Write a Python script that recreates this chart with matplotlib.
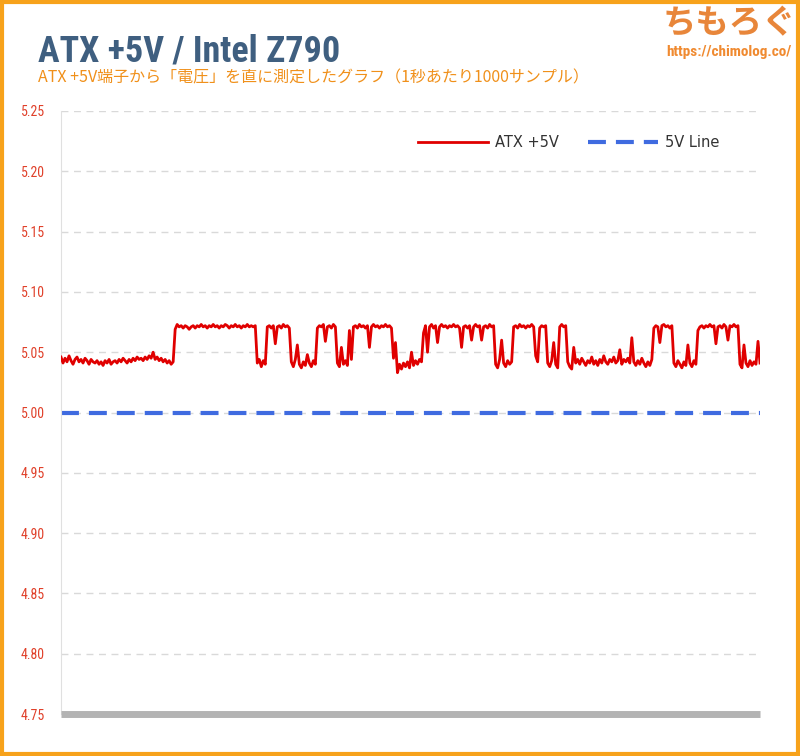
import matplotlib
matplotlib.use("Agg")
import matplotlib.pyplot as plt
from matplotlib.patches import Rectangle
import numpy as np

# ATX +5V readings (V) left to right
atx_5v = [
    5.046, 5.041, 5.045, 5.042, 5.047, 5.043, 5.040, 5.044, 5.046, 5.042,
    5.044, 5.041, 5.045, 5.043, 5.040, 5.044, 5.042, 5.041, 5.043, 5.040,
    5.042, 5.039, 5.043, 5.041, 5.044, 5.040, 5.042, 5.043, 5.041, 5.044,
    5.042, 5.045, 5.043, 5.041, 5.044, 5.042, 5.045, 5.043, 5.046, 5.044,
    5.045, 5.043, 5.046, 5.044, 5.047, 5.045, 5.050, 5.044, 5.046, 5.043,
    5.045, 5.042, 5.044, 5.041, 5.043, 5.040, 5.042,
    5.069,
    5.073, 5.071, 5.072, 5.070, 5.072, 5.071, 5.069, 5.071, 5.072, 5.070,
    5.072, 5.071, 5.073, 5.071, 5.072, 5.070, 5.072, 5.071, 5.073, 5.071,
    5.072, 5.070, 5.072, 5.071, 5.073, 5.072, 5.070, 5.072, 5.071, 5.073,
    5.071, 5.072, 5.070, 5.072, 5.071, 5.073, 5.071, 5.072, 5.071, 5.072,
    5.041, 5.044, 5.038, 5.043, 5.040,
    5.071, 5.072, 5.070, 5.072, 5.057, 5.071, 5.072, 5.070, 5.073, 5.071, 5.072, 5.070,
    5.042, 5.038, 5.044, 5.056, 5.040, 5.037, 5.042, 5.039, 5.048, 5.041, 5.038, 5.043, 5.040,
    5.070, 5.072, 5.071, 5.073, 5.059, 5.071, 5.072, 5.070, 5.073, 5.071,
    5.041, 5.038, 5.054, 5.040, 5.043, 5.039, 5.068, 5.044,
    5.071, 5.072, 5.070, 5.073, 5.071, 5.072, 5.070, 5.072, 5.054, 5.071,
    5.073, 5.071, 5.072, 5.070, 5.072, 5.071, 5.073, 5.071, 5.072, 5.070,
    5.045, 5.058, 5.033, 5.040, 5.036, 5.041, 5.038, 5.042, 5.037, 5.050,
    5.039, 5.043, 5.040, 5.044, 5.042,
    5.066, 5.072, 5.050, 5.071, 5.073, 5.070, 5.072, 5.058, 5.071, 5.073,
    5.071, 5.072, 5.070, 5.072, 5.071, 5.073, 5.071, 5.072, 5.070, 5.054,
    5.071, 5.072, 5.070, 5.072, 5.060, 5.071, 5.073, 5.071, 5.072, 5.060,
    5.071, 5.072, 5.070, 5.073, 5.071, 5.072,
    5.040, 5.037, 5.044, 5.060, 5.041, 5.038, 5.043, 5.040, 5.042,
    5.071, 5.072, 5.070, 5.073, 5.071, 5.072, 5.070, 5.072, 5.071, 5.073, 5.071,
    5.047, 5.042,
    5.070, 5.072, 5.071, 5.072,
    5.041, 5.038, 5.043, 5.058, 5.040, 5.037,
    5.071, 5.073, 5.071, 5.072,
    5.042, 5.038, 5.036, 5.054, 5.041, 5.044, 5.040, 5.045, 5.042, 5.039,
    5.043, 5.041, 5.046, 5.040, 5.043, 5.039, 5.044, 5.041, 5.047, 5.042,
    5.040, 5.044, 5.042, 5.046, 5.041, 5.043, 5.052, 5.040, 5.044, 5.042,
    5.045, 5.041, 5.062, 5.042, 5.039, 5.043, 5.040, 5.045, 5.041, 5.038,
    5.042, 5.039, 5.044,
    5.070, 5.072, 5.071, 5.058, 5.072, 5.073, 5.071, 5.072, 5.070, 5.072,
    5.041, 5.038, 5.043, 5.040, 5.037, 5.042, 5.039, 5.056, 5.041, 5.038, 5.043, 5.040,
    5.068, 5.071, 5.072, 5.070, 5.072, 5.071, 5.073, 5.071, 5.072, 5.057,
    5.071, 5.072, 5.070, 5.073, 5.071, 5.060, 5.072, 5.071, 5.073, 5.071, 5.072,
    5.040, 5.037, 5.056, 5.041, 5.038, 5.043, 5.039, 5.042, 5.040, 5.059, 5.041,
]
reference_v = 5.00
y_ticks = [4.75, 4.80, 4.85, 4.90, 4.95, 5.00, 5.05, 5.10, 5.15, 5.20, 5.25]

title = "ATX +5V / Intel Z790"
subtitle = "ATX +5V端子から「電圧」を直に測定したグラフ（1秒あたり1000サンプル）"
series_labels = ["ATX +5V", "5V Line"]

# condensed faces if any are installed, otherwise Roboto
narrow = ["Roboto Condensed", "Noto Sans Condensed", "Liberation Sans Narrow",
          "Roboto", "DejaVu Sans"]
jp = ["Noto Sans CJK JP", "DejaVu Sans"]

fig = plt.figure(figsize=(8, 7.56), dpi=100)
ax = fig.add_axes([61 / 800, 1 - 714 / 756, 699 / 800, 603 / 756])

x = np.arange(len(atx_5v))
ax.plot(x, atx_5v, color="#e00000", lw=2.0, label=series_labels[0], zorder=3)
ax.axhline(reference_v, color="#3f6be0", lw=3.0, dashes=(4.3, 2.4),
           label=series_labels[1], zorder=2)

ax.set_xlim(0, len(atx_5v) - 1)
ax.set_ylim(4.75, 5.25)
ax.set_yticks(y_ticks)
ax.set_yticklabels([f"{v:.2f}" for v in y_ticks], color="#e0402a",
                   fontsize=10, family=narrow, fontstretch="condensed")
ax.set_xticks([])
ax.tick_params(axis="y", length=0, pad=11.5)
for v in y_ticks[1:]:
    ax.axhline(v, color="#d9d9d9", lw=1, ls=(0, (5, 4)), zorder=1)

for side in ["top", "right"]:
    ax.spines[side].set_visible(False)
ax.spines["left"].set_color("#e0e0e0")
ax.spines["bottom"].set_color("#b3b3b3")
ax.spines["bottom"].set_linewidth(5)
ax.spines["bottom"].set_capstyle("butt")

leg = ax.legend(loc="upper right", bbox_to_anchor=(0.96, 0.982), ncol=2,
                frameon=False, handlelength=4.8, handletextpad=0.45,
                columnspacing=2.0, prop={"family": "DejaVu Sans", "size": 10.5})
for t in leg.get_texts():
    t.set_color("#333333")

fig.text(38 / 800, 1 - 62 / 756, title, color="#3f5f80", fontsize=26,
         fontweight="bold", family=narrow, fontstretch="condensed",
         va="baseline")
fig.text(38 / 800, 1 - 82 / 756, subtitle, color="#f0901a", fontsize=11.5,
         family=jp, va="baseline")
fig.text(729 / 800, 1 - 33 / 756, "ちもろぐ", color="#e8863a", fontsize=24,
         fontweight="bold", family=jp, ha="center", va="baseline")
fig.text(729 / 800, 1 - 56 / 756, "https://chimolog.co/", color="#f08a30",
         fontsize=11, fontweight="bold", family=narrow, fontstretch="condensed",
         ha="center", va="baseline")

fig.patches.append(Rectangle((0.002, 0.002), 0.996, 0.996, transform=fig.transFigure,
                             fill=False, edgecolor="#f7a21b", lw=3))

fig.savefig("out.png", dpi=100)
